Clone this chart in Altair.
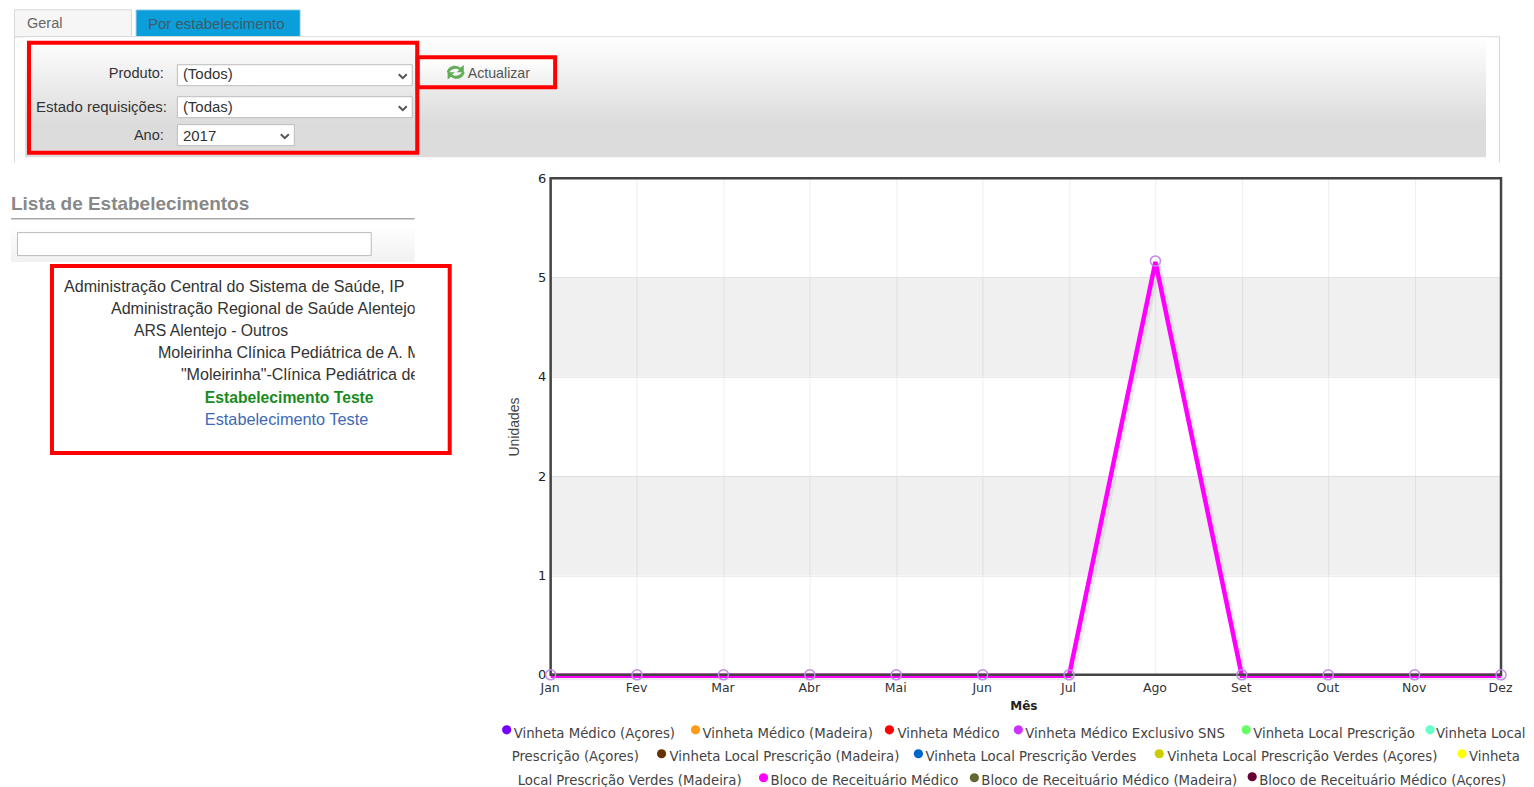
import altair as alt
import pandas as pd

# ---- chart values ----
months = ["Jan", "Fev", "Mar", "Abr", "Mai", "Jun", "Jul", "Ago", "Set", "Out", "Nov", "Dez"]
bloco_values = [0, 0, 0, 0, 0, 0, 0, 5, 0, 0, 0, 0]
y_ticks = [0, 1.2, 2.4, 3.6, 4.8, 6]
band_lo = [1.2, 3.6]
band_hi = [2.4, 4.8]

legend_names = [
    "Vinheta Médico (Açores)", "Vinheta Médico (Madeira)", "Vinheta Médico",
    "Vinheta Médico Exclusivo SNS", "Vinheta Local Prescrição", "Vinheta Local",
    "Vinheta Local Prescrição (Madeira)", "Vinheta Local Prescrição Verdes",
    "Vinheta Local Prescrição Verdes (Açores)", "Vinheta",
    "Bloco de Receituário Médico", "Bloco de Receituário Médico (Madeira)",
    "Bloco de Receituário Médico (Açores)",
]
legend_colors = [
    "#7700ff", "#ff9a1a", "#ff0000", "#cc33ff", "#66ff66", "#66ffcc", "#663300",
    "#0066cc", "#cccc00", "#ffff00", "#ff00ff", "#666633", "#660033",
]
# ---- page layout (screen pixels) ----
legend_dot_x = [507, 696, 890, 1019, 1247, 1431, 662, 919, 1160, 1463, 764, 975, 1253]
legend_dot_y = [730, 730, 730, 730, 730, 730, 754, 754, 754, 754, 778, 778, 777]
legend_text_x = [514, 703, 898, 1026, 1254, 1437, 670, 926, 1168, 1470, 771, 982, 1260]
legend_text_y = [734, 734, 734, 734, 734, 734, 757, 757, 757, 757, 781, 781, 781]
legend_wrap = [("Prescrição (Açores)", 512, 757), ("Local Prescrição Verdes (Madeira)", 518, 781)]

X0, Y0 = 551, 178   # plot origin on the screen
W, H = 951, 497
UI_FONT = "Liberation Sans"
LEG_FONT = "DejaVu Sans"
LEG_SIZE = 13.3
one = pd.DataFrame({"k": [0]})


def grad(stops):
    return alt.LinearGradient(
        gradient="linear", x1=0, x2=0, y1=0, y2=1,
        stops=[alt.GradientStop(color=c, offset=o) for c, o in stops],
    )


def box(x1, y1, x2, y2, **kw):
    return alt.Chart(one).mark_rect(**kw).encode(
        x=alt.value(x1 - X0), x2=alt.value(x2 - X0),
        y=alt.value(y1 - Y0), y2=alt.value(y2 - Y0),
    )


def label(s, x, y, size=15, color="#333333", font=UI_FONT, align="left", weight="normal"):
    return alt.Chart(one).mark_text(
        font=font, fontSize=size, color=color, align=align, baseline="middle", fontWeight=weight
    ).encode(x=alt.value(x - X0), y=alt.value(y - Y0), text=alt.value(s))


def glyph(path, x, y, size, **kw):
    return alt.Chart(one).mark_point(shape=path, size=size, **kw).encode(
        x=alt.value(x - X0), y=alt.value(y - Y0)
    )


CHEVRON = "M-1,-0.5 L0,0.5 L1,-0.5"
REFRESH = ("M-1,0 C-0.8,-0.8 0.1,-0.9 0.5,-0.5 L0.9,-0.8 L0.9,0 L0.1,0 L0.4,-0.25 C0.1,-0.5 -0.5,-0.4 -0.7,0 Z "
           "M1,0 C0.8,0.8 -0.1,0.9 -0.5,0.5 L-0.9,0.8 L-0.9,0 L-0.1,0 L-0.4,0.25 C-0.1,0.5 0.5,0.4 0.7,0 Z")

ui = [
    box(8, 8, 1526, 787, fillOpacity=0),
    # tabs
    box(14.5, 9.5, 131.5, 36.5, fill="#f6f6f6", stroke="#d8d8d8", strokeWidth=1),
    box(136, 9.5, 300.5, 36.5, fill="#0a9fdb", stroke="#cfe4ee", strokeWidth=1),
    label("Geral", 27, 24, size=14.5, color="#666666"),
    label("Por estabelecimento", 148, 24, color="#3f5a68"),
    # filter panel
    box(14, 36, 1501, 37, fill="#d8d8d8"),
    box(14, 36, 15, 162, fill="#d8d8d8"),
    box(1500, 36, 1501, 162, fill="#d8d8d8"),
    box(25, 37, 1487, 157, fill=grad([("#ffffff", 0), ("#dcdcdc", 0.72), ("#dcdcdc", 1)])),
    box(177.5, 64.5, 412.5, 85.5, fill="white", stroke="#bdbdbd", strokeWidth=1),
    box(177.5, 96.5, 412.5, 117.5, fill="white", stroke="#bdbdbd", strokeWidth=1),
    box(177.5, 124.5, 294.5, 145.5, fill="white", stroke="#bdbdbd", strokeWidth=1),
    label("Produto:", 164, 74, size=14.6, align="right"),
    label("Estado requisições:", 167, 107, align="right"),
    label("Ano:", 164, 136, size=14.6, align="right"),
    label("(Todos)", 183, 74),
    label("(Todas)", 183, 107),
    label("2017", 183, 136),
    glyph(CHEVRON, 403, 76, 64, stroke="#555555", strokeWidth=2, filled=False, opacity=1),
    glyph(CHEVRON, 403, 108, 64, stroke="#555555", strokeWidth=2, filled=False, opacity=1),
    glyph(CHEVRON, 285, 136, 64, stroke="#555555", strokeWidth=2, filled=False, opacity=1),
    box(420, 58, 554, 86, fill=grad([("#ffffff", 0), ("#eeeeee", 1)])),
    glyph(REFRESH, 456, 72, 324, fill="#62ad55", filled=True, opacity=1, strokeWidth=0),
    label("Actualizar", 468, 73.5, size=14.2, color="#555555"),
    box(29, 42.5, 417.5, 152.5, fillOpacity=0, stroke="#ff0000", strokeWidth=4),
    box(418, 57, 555.5, 87, fillOpacity=0, stroke="#ff0000", strokeWidth=4),
    # establishment list
    label("Lista de Estabelecimentos", 11, 204, size=19, color="#888888", weight="bold"),
    box(11, 218, 415, 219.5, fill="#aaaaaa"),
    box(11, 225, 415, 262, fill=grad([("#ffffff", 0), ("#f1f1f1", 1)])),
    box(17.5, 232.5, 371.5, 255.5, fill="white", stroke="#bbbbbb", strokeWidth=1),
    label("Administração Central do Sistema de Saúde, IP", 64, 287, size=16.1),
    label("Administração Regional de Saúde Alentejo", 111, 309, size=16.1),
    label("ARS Alentejo - Outros", 134, 331, size=15.8),
    label("Moleirinha Clínica Pediátrica de A. M", 158, 353, size=16.1),
    label('"Moleirinha"-Clínica Pediátrica de', 181, 375, size=16.1),
    label("Estabelecimento Teste", 205, 398, size=15.7, color="#1a8a22", weight="bold"),
    label("Estabelecimento Teste", 205, 420, size=16.3, color="#3f69b5"),
    box(415, 268, 447, 450, fill="white"),
    box(52, 266, 450, 453, fillOpacity=0, stroke="#ff0000", strokeWidth=4),
]

# legend
legend = []
for n, c, dx, dy, tx, ty in zip(legend_names, legend_colors, legend_dot_x, legend_dot_y, legend_text_x, legend_text_y):
    legend.append(alt.Chart(one).mark_circle(color=c, size=85, opacity=1).encode(
        x=alt.value(dx - X0), y=alt.value(dy - Y0)))
    legend.append(label(n, tx, ty, size=LEG_SIZE, color="#444444", font=LEG_FONT))
for s, tx, ty in legend_wrap:
    legend.append(label(s, tx, ty, size=LEG_SIZE, color="#444444", font=LEG_FONT))

# plot
data = pd.DataFrame({"mes": months, "v": bloco_values})
bands_df = pd.DataFrame({"lo": band_lo, "hi": band_hi})

x_enc = alt.X(
    "mes:N", sort=months, title="Mês",
    scale=alt.Scale(type="point", domain=months, padding=0),
    axis=alt.Axis(
        labelAngle=0, labelFont=LEG_FONT, labelFontSize=12.5, labelColor="#333333", labelOffset=-1,
        labelPadding=7, tickSize=0, domain=False, grid=True, gridColor="#eeeeee", gridWidth=1,
        titleFont=LEG_FONT, titleFontSize=12, titleFontWeight="bold", titleColor="#222222", titlePadding=6,
        titleX=473,
    ),
)
y_axis = alt.Axis(
    values=y_ticks, format=".0f", labelFont=LEG_FONT, labelFontSize=13, labelColor="#222222",
    labelPadding=5, tickSize=0, domain=False, grid=True, gridColor="#e9e9e9", gridWidth=1,
    titleFont=UI_FONT, titleFontSize=14, titleFontWeight="normal", titleColor="#444444", titlePadding=16,
)
y_scale = alt.Scale(domain=[0, 6], nice=False)
y_enc = alt.Y("v:Q", title="Unidades", scale=y_scale, axis=y_axis)

bands = alt.Chart(bands_df).mark_rect(fill="#000000", fillOpacity=0.058).encode(
    x=alt.value(0), x2=alt.value(W),
    y=alt.Y("lo:Q", title="Unidades", scale=y_scale, axis=y_axis),
    y2="hi:Q",
)
shadow = alt.Chart(data).mark_line(color="#000000", strokeWidth=5, opacity=0.07, xOffset=3, yOffset=3).encode(
    x=x_enc, y=y_enc)
line = alt.Chart(data).mark_line(color="#ff00ff", strokeWidth=4.5, yOffset=1).encode(x=x_enc, y=y_enc)
frame = box(X0, Y0, X0 + W, Y0 + H, fillOpacity=0, stroke="#444444", strokeWidth=2.5)
points = alt.Chart(data).mark_point(
    shape="circle", size=100, filled=False, stroke="#c08ae6", strokeWidth=1.5, opacity=1
).encode(x=x_enc, y=y_enc)

chart = alt.layer(*ui, bands, shadow, line, frame, points, *legend).properties(
    width=W, height=H, padding=0,
    background="white",
).configure_view(stroke=None)

chart.save("out.html", embed_options={"renderer": "svg", "actions": False})
